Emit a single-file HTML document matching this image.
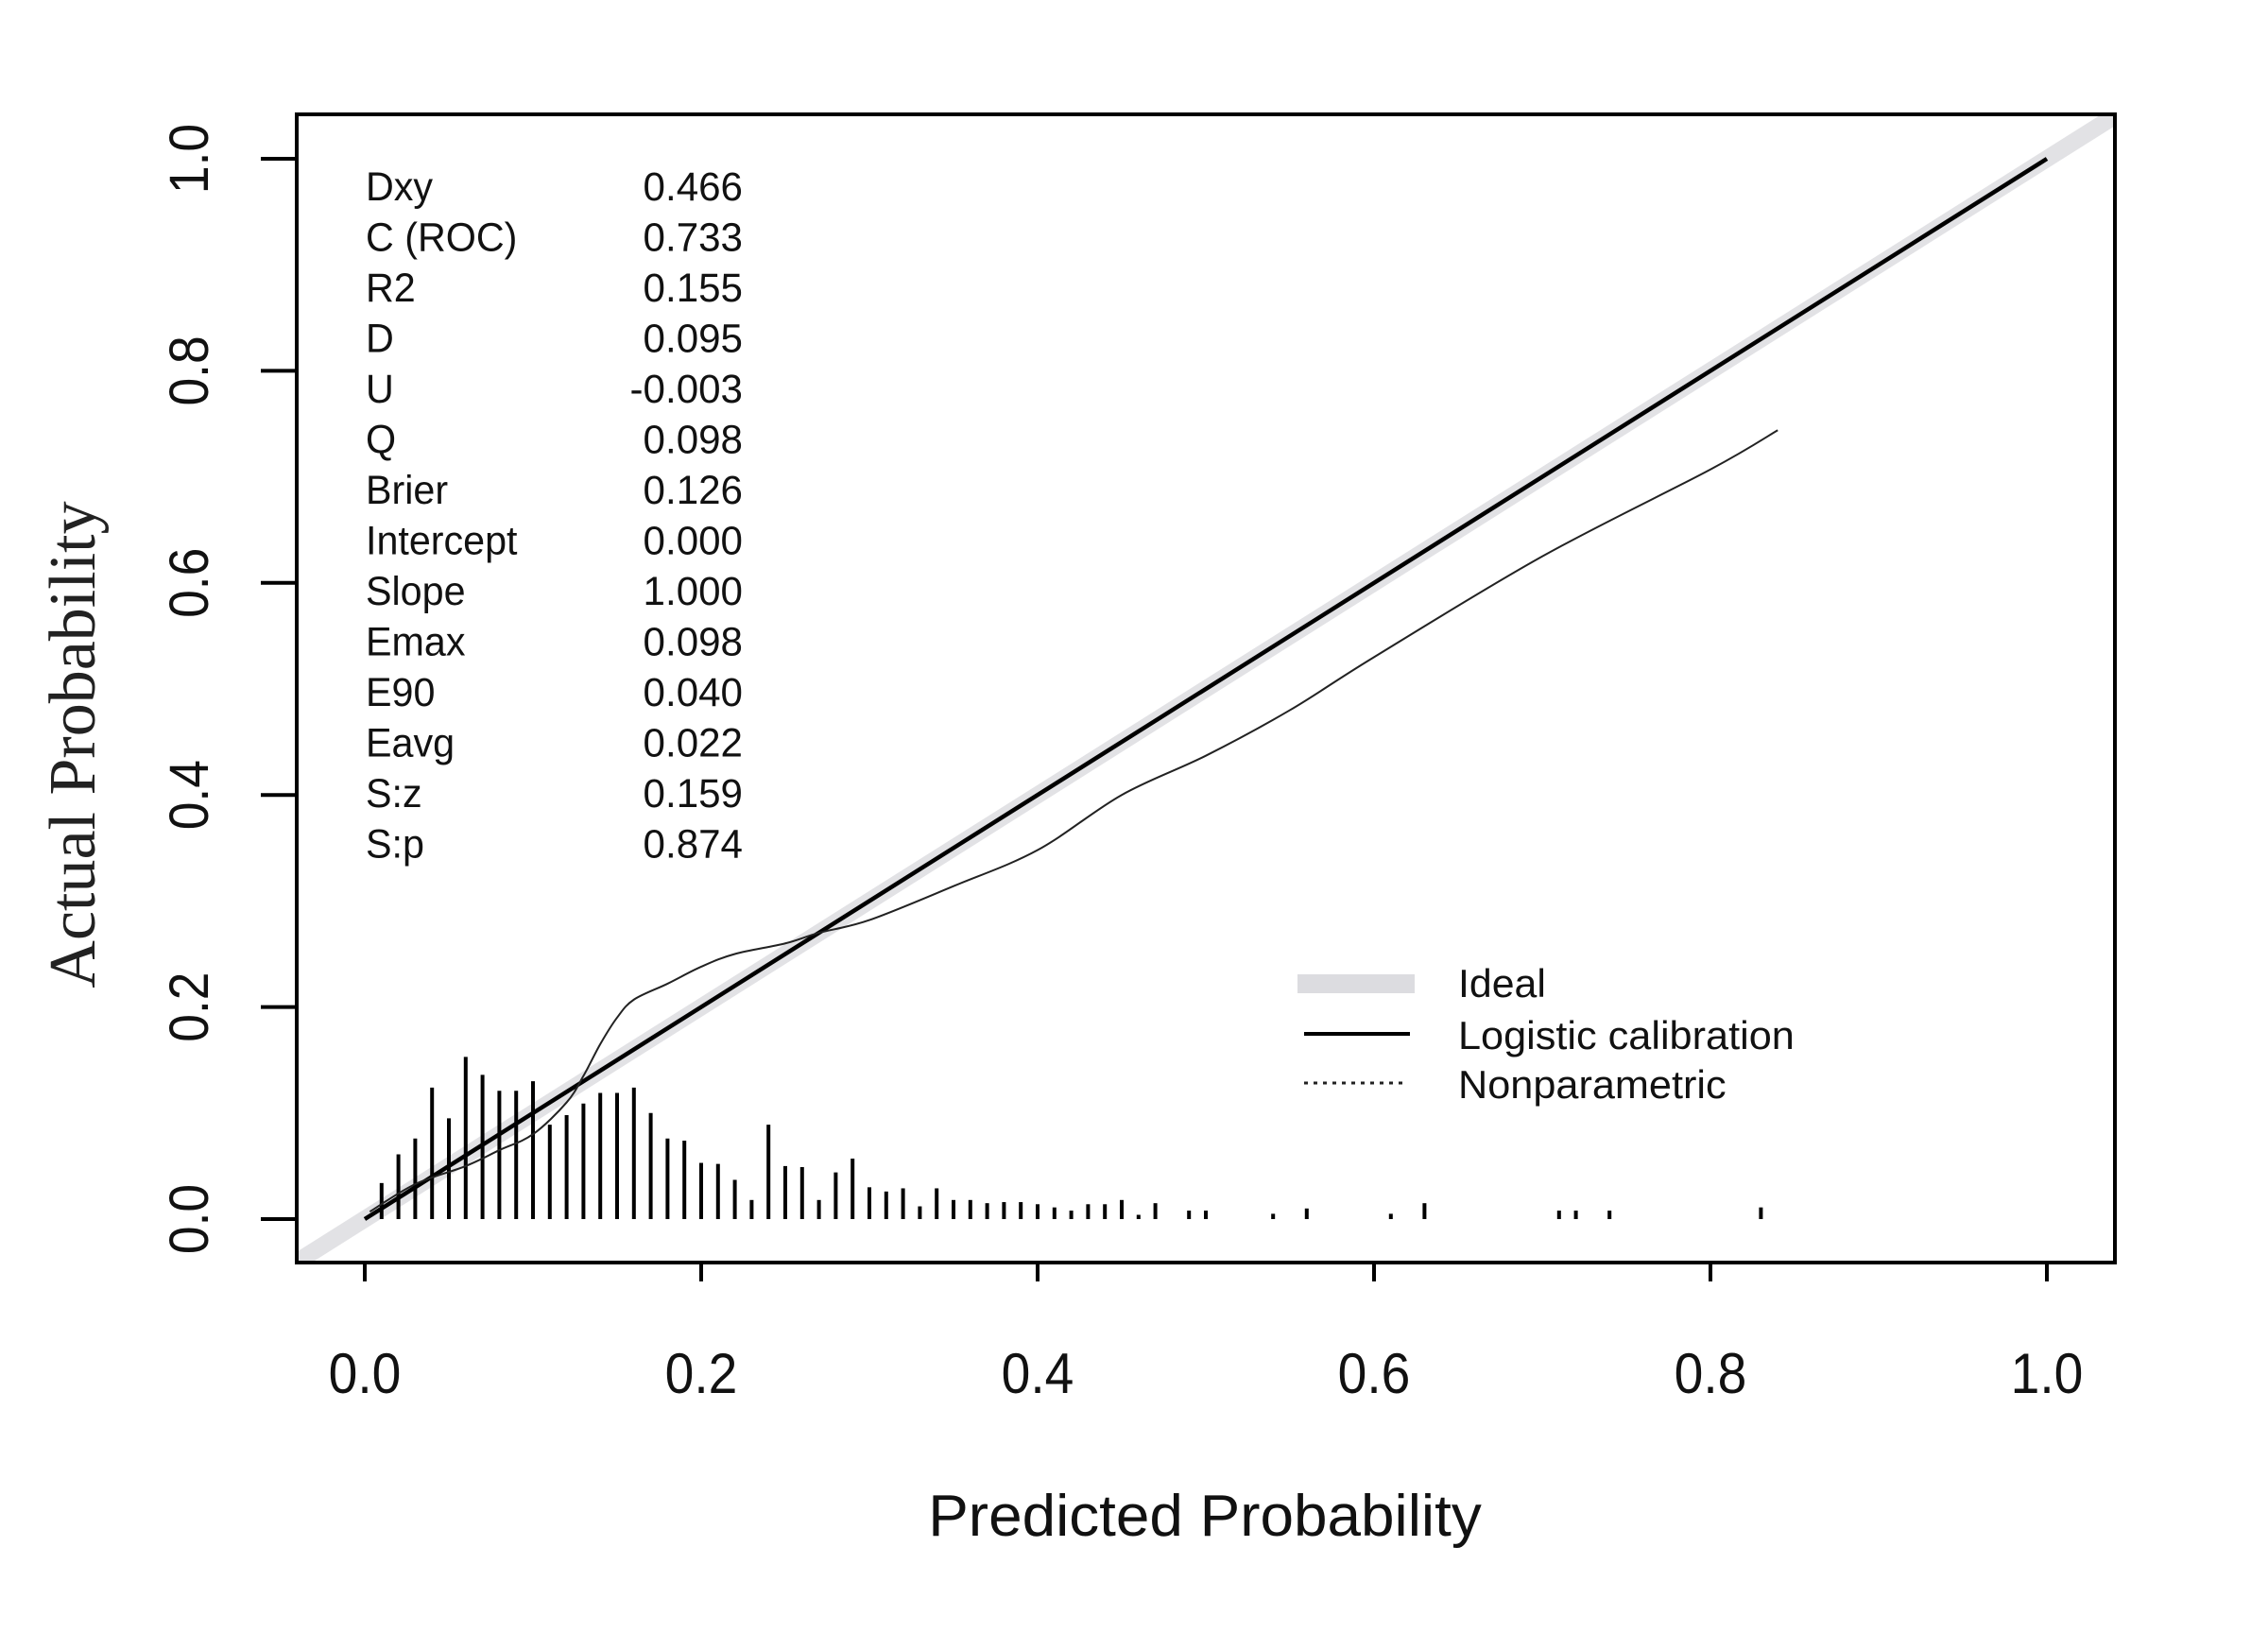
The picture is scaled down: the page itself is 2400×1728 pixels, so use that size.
<!DOCTYPE html>
<html><head><meta charset="utf-8">
<style>
html,body{margin:0;padding:0;background:#fff;width:2400px;height:1728px;overflow:hidden}
svg{display:block}
.t{font-family:"Liberation Sans",sans-serif;fill:#111}
</style></head>
<body>
<svg id="chart" width="2400" height="1728" viewBox="0 0 2400 1728" xmlns="http://www.w3.org/2000/svg">
<defs><clipPath id="pc"><rect x="314" y="121" width="1924" height="1215"/></clipPath></defs>
<rect x="0" y="0" width="2400" height="1728" fill="#fff"/>
<g id="ideal" clip-path="url(#pc)"></g>
<g id="hist"></g>
<g id="logi"></g>
<g id="np"></g>
<rect x="314" y="121" width="1924" height="1215" fill="none" stroke="#000" stroke-width="4"/>
<g id="xaxis"></g>
<g id="yaxis"></g>
<text class="t" x="1275" y="1625" font-size="62" text-anchor="middle" transform="translate(1275 0) scale(1.03 1) translate(-1275 0)">Predicted Probability</text>
<text x="0" y="0" font-family="Liberation Serif,serif" font-size="70" fill="#222" text-anchor="middle" transform="translate(100 788) rotate(-90)">Actual Probability</text>
<g id="stats"></g>
<g>
  <g>
    <line x1="1373" y1="1041" x2="1497" y2="1041" stroke="#dcdce0" stroke-width="20"/>
    <text class="t" x="1543" y="1055" font-size="42" transform="translate(1543 0) scale(1.02 1) translate(-1543 0)">Ideal</text>
  </g>
  <g>
    <line x1="1380" y1="1094" x2="1492" y2="1094" stroke="#000" stroke-width="4"/>
    <text class="t" x="1543" y="1110" font-size="42" transform="translate(1543 0) scale(1.03 1) translate(-1543 0)">Logistic calibration</text>
  </g>
  <g>
    <line x1="1380" y1="1146" x2="1485" y2="1146" stroke="#222" stroke-width="3" stroke-dasharray="4 6"/>
    <text class="t" x="1543" y="1162" font-size="42" transform="translate(1543 0) scale(1.03 1) translate(-1543 0)">Nonparametric</text>
  </g>
</g>
</svg>
<script>
const histX = [0.01,0.02,0.03,0.04,0.05,0.06,0.07,0.08,0.09,0.10,0.11,0.12,0.13,0.14,0.15,0.16,0.17,0.18,0.19,0.20,0.21,0.22,0.23,0.24,0.25,0.26,0.27,0.28,0.29,0.30,0.31,0.32,0.33,0.34,0.35,0.36,0.37,0.38,0.39,0.40,0.41,0.42,0.43,0.44,0.45,0.46,0.47,0.49,0.50,0.54,0.56,0.61,0.63,0.71,0.72,0.74,0.83];
const histH = [0.034,0.061,0.076,0.124,0.095,0.153,0.136,0.121,0.121,0.13,0.089,0.098,0.109,0.119,0.119,0.124,0.1,0.076,0.074,0.053,0.052,0.037,0.018,0.089,0.05,0.049,0.018,0.044,0.057,0.03,0.026,0.029,0.012,0.029,0.018,0.018,0.015,0.016,0.016,0.014,0.011,0.008,0.014,0.014,0.018,0.004,0.015,0.008,0.008,0.005,0.01,0.005,0.015,0.008,0.008,0.008,0.011];
const npX = [0.003,0.03,0.06,0.08,0.10,0.12,0.13,0.14,0.15,0.16,0.18,0.20,0.22,0.25,0.27,0.30,0.35,0.40,0.45,0.50,0.55,0.60,0.70,0.80,0.84];
const npY = [0.007,0.033,0.05,0.065,0.08,0.11,0.135,0.165,0.19,0.207,0.222,0.238,0.25,0.26,0.27,0.282,0.314,0.348,0.40,0.437,0.48,0.53,0.625,0.707,0.744];
const statLabels = ["Dxy","C (ROC)","R2","D","U","Q","Brier","Intercept","Slope","Emax","E90","Eavg","S:z","S:p"];
const statValues = ["0.466","0.733","0.155","0.095","-0.003","0.098","0.126","0.000","1.000","0.098","0.040","0.022","0.159","0.874"];
const xTicks = [0,0.2,0.4,0.6,0.8,1.0];
const xTickLabels = ["0.0","0.2","0.4","0.6","0.8","1.0"];
const yTicks = [0,0.2,0.4,0.6,0.8,1.0];
const yTickLabels = ["0.0","0.2","0.4","0.6","0.8","1.0"];

const NS="http://www.w3.org/2000/svg";
const sx = v => 386 + v*1780;
const sy = v => 1290 - v*1122;
function mk(tag, attrs, parent){const e=document.createElementNS(NS,tag);for(const k in attrs)e.setAttribute(k,attrs[k]);parent.appendChild(e);return e;}

let e = mk('line',{x1:sx(-0.1),y1:sy(-0.1),x2:sx(1.1),y2:sy(1.1),stroke:'#e2e2e5','stroke-width':18},document.getElementById('ideal'));



const hg=document.getElementById('hist');
histX.forEach((x,i)=>{
  const b=mk('line',{x1:sx(x),x2:sx(x),y1:sy(0),y2:sy(histH[i]),stroke:'#000','stroke-width':4},hg);
  
  
});

e=mk('line',{x1:sx(0),y1:sy(0),x2:sx(1),y2:sy(1),stroke:'#000','stroke-width':4.5},document.getElementById('logi'));



let pts=npX.map((x,i)=>[sx(x),sy(npY[i])]);
let d='M'+pts[0][0]+' '+pts[0][1];
for(let i=0;i<pts.length-1;i++){
  const p0=pts[Math.max(0,i-1)],p1=pts[i],p2=pts[i+1],p3=pts[Math.min(pts.length-1,i+2)];
  const c1=[p1[0]+(p2[0]-p0[0])/6,p1[1]+(p2[1]-p0[1])/6];
  const c2=[p2[0]-(p3[0]-p1[0])/6,p2[1]-(p3[1]-p1[1])/6];
  d+=` C${c1[0]} ${c1[1]} ${c2[0]} ${c2[1]} ${p2[0]} ${p2[1]}`;
}
e=mk('path',{d:d,fill:'none',stroke:'#222','stroke-width':2},document.getElementById('np'));



const xg=document.getElementById('xaxis');
xTicks.forEach((v,i)=>{
  const t=mk('line',{x1:sx(v),x2:sx(v),y1:1336,y2:1356,stroke:'#000','stroke-width':4},xg);
  
  
  const l=mk('text',{x:sx(v),y:1474,'font-size':60,'text-anchor':'middle',class:'t',transform:`translate(${sx(v)} 0) scale(0.92 1) translate(${-sx(v)} 0)`},xg);
  l.textContent=xTickLabels[i];
  
  
});
const yg=document.getElementById('yaxis');
yTicks.forEach((v,i)=>{
  const t=mk('line',{x1:276,x2:314,y1:sy(v),y2:sy(v),stroke:'#000','stroke-width':4},yg);
  
  
  const l=mk('text',{x:0,y:0,'font-size':58,'text-anchor':'middle',class:'t',transform:`translate(220 ${sy(v)}) rotate(-90) scale(0.92 1)`},yg);
  l.textContent=yTickLabels[i];
  
  
});

const sg=document.getElementById('stats');
statLabels.forEach((s,i)=>{
  const y=212+i*53.5;
  const a=mk('text',{x:387,y:y,'font-size':43,class:'t',transform:`translate(387 0) scale(0.96 1) translate(-387 0)`},sg);
  a.textContent=s;
  
  
  const b=mk('text',{x:786,y:y,'font-size':43,class:'t','text-anchor':'end',transform:`translate(786 0) scale(0.98 1) translate(-786 0)`},sg);
  b.textContent=statValues[i];
  
  
});
</script>
</body></html>
